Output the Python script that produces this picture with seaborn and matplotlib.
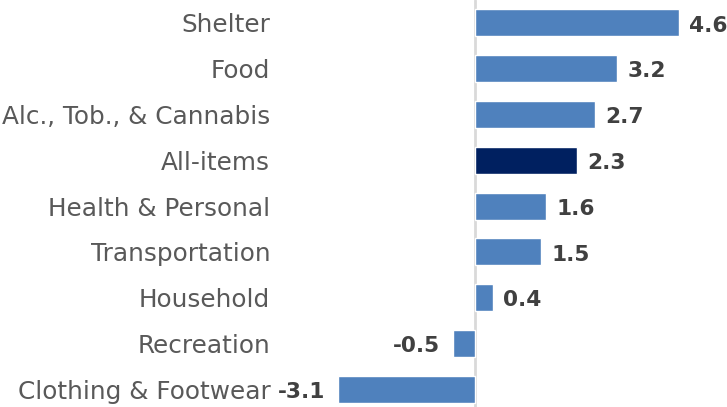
import matplotlib
matplotlib.use("Agg")
import matplotlib.pyplot as plt
import seaborn as sns
import pandas as pd

categories = ["Shelter", "Food", "Alc., Tob., & Cannabis", "All-items",
              "Health & Personal", "Transportation", "Household",
              "Recreation", "Clothing & Footwear"]
values = [4.6, 3.2, 2.7, 2.3, 1.6, 1.5, 0.4, -0.5, -3.1]
highlight = "All-items"

sns.set_style("white")
plt.rcParams['font.family'] = ['DejaVu Sans']

df = pd.DataFrame({"cat": categories, "val": values})
palette = {c: ("#002060" if c == highlight else "#4F81BD") for c in categories}

fig = plt.figure(figsize=(7.27, 4.07), dpi=100)
ax = fig.add_axes([280/727, 0, 1 - 280/727, 1])
sns.barplot(data=df, y="cat", x="val", hue="cat", palette=palette,
            order=categories, orient="h", width=0.59, legend=False, ax=ax,
            saturation=1)

px_per_unit = 44.3
ax.set_xlim((280 - 475) / px_per_unit, (727 - 475) / px_per_unit)
ax.set_ylim(8.39, -0.50)
ax.axvline(0, color="#D9D9D9", lw=2, zorder=0)

for s in ax.spines.values():
    s.set_visible(False)
ax.set_xticks([])
ax.set_xlabel("")
ax.set_ylabel("")
ax.tick_params(axis="y", length=0, pad=7, labelsize=17.8, labelcolor="#595959")

for i, v in enumerate(values):
    if v >= 0:
        ax.annotate(f"{v:.1f}", (v, i), xytext=(7.5, -2), textcoords="offset points",
                    ha="left", va="center", fontsize=15.6, fontweight="bold", color="#404040")
    else:
        ax.annotate(f"{v:.1f}", (v, i), xytext=(-9, -2), textcoords="offset points",
                    ha="right", va="center", fontsize=15.6, fontweight="bold", color="#404040")

fig.savefig("out.png", dpi=100)
